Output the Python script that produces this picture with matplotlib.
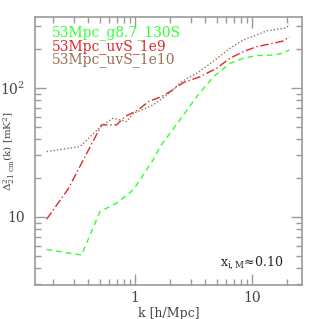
import numpy as np
import matplotlib
matplotlib.use("Agg")
import matplotlib.pyplot as plt
from matplotlib.ticker import LogLocator, NullFormatter, FixedLocator, FixedFormatter

# values
k_green = [0.176, 0.350, 0.502, 0.698, 0.967, 1.43, 1.64, 2.42, 3.37, 4.67, 6.48, 8.43, 11.0, 15.2, 18.5, 20.8]
p_green = [5.6, 5.07, 11.0, 12.8, 16.2, 27.7, 35.1, 56.5, 85.7, 122, 155, 170, 178, 180, 186, 197]

k_red = [0.176, 0.269, 0.374, 0.519, 0.554, 0.698, 0.821, 0.937, 1.067, 1.30, 1.69, 1.99, 2.59, 3.59, 4.99, 6.48, 8.43, 11.0, 15.2, 18.5, 20.8]
p_red = [9.6, 16.5, 29.3, 51.7, 51.7, 51.7, 60, 63.6, 67.5, 78.3, 85.7, 93.6, 110, 122, 142, 170, 191, 209, 222, 231, 250]

k_brown = [0.176, 0.339, 0.519, 0.652, 0.849, 0.967, 1.14, 1.43, 1.80, 2.11, 2.42, 3.37, 4.64, 6.48, 8.39, 11.0, 13.4, 17.3, 19.8, 20.8]
p_brown = [32.1, 35.1, 51, 58.2, 54.8, 63.7, 67.5, 73.8, 85.7, 96.5, 110, 130, 160, 203, 235, 258, 277, 287, 293, 313]

names = ["53Mpc_g8.7_130S", "53Mpc_uvS_1e9", "53Mpc_uvS_1e10"]
colors = ["#33ff33", "#dd2a2a", "#9c6e55"]

plt.rcParams['font.family'] = 'DejaVu Serif'
plt.rcParams['mathtext.fontset'] = 'dejavuserif'

GRAY = "#9a9a9a"
TXT = "#444444"

fig = plt.figure(figsize=(3.19, 3.19), dpi=100)
ax = fig.add_axes([0.1097, 0.1066, 0.837, 0.8404])

ax.plot(k_green, p_green, color=colors[0], lw=1.0, ls=(0, (4, 3)))
ax.plot(k_red, p_red, color=colors[1], lw=1.0, ls=(0, (6, 2, 1, 2)))
ax.plot(k_brown, p_brown, color=colors[2], lw=1.0, ls=(0, (1, 1.5)))

ax.set_xscale('log')
ax.set_yscale('log')
ax.set_xlim(0.14, 26.7)
ax.set_ylim(2.97, 355)

ax.xaxis.set_major_locator(FixedLocator([1, 10]))
ax.xaxis.set_major_formatter(FixedFormatter(["1", "10"]))
ax.yaxis.set_major_locator(FixedLocator([10, 100]))
ax.yaxis.set_major_formatter(FixedFormatter(["10", r"$10^2$"]))
ax.xaxis.set_minor_locator(LogLocator(base=10, subs=np.arange(2, 10)))
ax.yaxis.set_minor_locator(LogLocator(base=10, subs=np.arange(2, 10)))
ax.xaxis.set_minor_formatter(NullFormatter())
ax.yaxis.set_minor_formatter(NullFormatter())

for s in ax.spines.values():
    s.set_color(GRAY)
    s.set_linewidth(1.2)
ax.tick_params(which='both', direction='in', top=True, right=True, color=GRAY, width=1.0,
               labelsize=10, labelcolor=TXT)
ax.tick_params(which='major', length=8)
ax.tick_params(axis='x', which='major', pad=4)
ax.tick_params(axis='y', which='major', pad=7)
ax.tick_params(which='minor', length=4)

ax.set_xlabel("k [h/Mpc]", color=TXT, fontsize=9)
ax.set_ylabel(r"$\Delta^2_{21\ \rm cm}$(k) [mK$^2$]", color=TXT, fontsize=7.5, va='center')
ax.xaxis.set_label_coords(0.5, -0.082)
ax.yaxis.set_label_coords(-0.097, 0.50)

for i, (n, c) in enumerate(zip(names, colors)):
    ax.text(0.065, 0.94 - i * 0.050, n, transform=ax.transAxes, color=c, fontsize=10,
            va='center', ha='left')

ax.text(0.93, 0.085, r"x$_{\rm i,M}$≈0.10", transform=ax.transAxes, color="#222222",
        fontsize=9, ha='right', va='center')

fig.savefig("out.png", dpi=100)
